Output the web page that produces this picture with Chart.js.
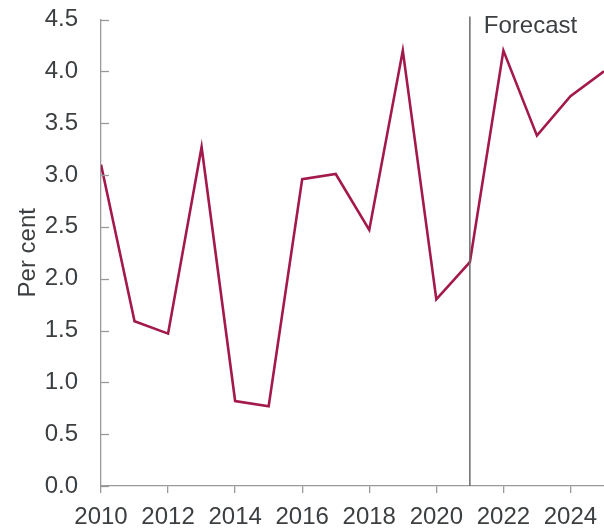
<!DOCTYPE html>
<html>
<head>
<meta charset="utf-8">
<script src="https://cdn.jsdelivr.net/npm/chart.js@4/dist/chart.umd.min.js"></script>
<style>
  html, body { margin: 0; padding: 0; background: #fff; }
  #wrap { width: 604px; height: 530px; position: relative; }
</style>
</head>
<body>
<div id="wrap"><canvas id="chart"></canvas></div>
<script>
// values
const years = [2010, 2011, 2012, 2013, 2014, 2015, 2016, 2017, 2018, 2019, 2020, 2021, 2022, 2023, 2024, 2025];
const perCent = [3.10, 1.59, 1.47, 3.27, 0.82, 0.77, 2.96, 3.01, 2.47, 4.20, 1.80, 2.16, 4.20, 3.38, 3.76, 4.00];
const yTicks = [0, 0.5, 1.0, 1.5, 2.0, 2.5, 3.0, 3.5, 4.0, 4.5];
const forecastStart = 2021;
const forecastLabel = "Forecast";

const textColor = "#3c3f41";
const axisColor = "#9a9a9a";
const fontFamily = "'Liberation Sans', Arial, sans-serif";

// forecast divider + inward y ticks
const extras = {
    id: "extras",
    afterDatasetsDraw(chart) {
        const ctx = chart.ctx;
        const x = chart.scales.x;
        const y = chart.scales.y;
        const area = chart.chartArea;

        ctx.save();
        ctx.strokeStyle = axisColor;
        ctx.lineWidth = 1.3;
        yTicks.forEach(t => {
            const py = Math.round(y.getPixelForValue(t)) + 0.5;
            ctx.beginPath();
            ctx.moveTo(area.left, py);
            ctx.lineTo(area.left + 8, py);
            ctx.stroke();
        });

        const fx = x.getPixelForValue(forecastStart);
        ctx.strokeStyle = "#6b6b6b";
        ctx.lineWidth = 1.5;
        ctx.beginPath();
        ctx.moveTo(fx, area.top - 3);
        ctx.lineTo(fx, area.bottom);
        ctx.stroke();

        ctx.fillStyle = textColor;
        ctx.font = "24px " + fontFamily;
        ctx.textBaseline = "alphabetic";
        ctx.fillText(forecastLabel, fx + 14, 33);
        ctx.restore();
    }
};

const ctx = document.getElementById("chart").getContext("2d");
new Chart(ctx, {
    type: "line",
    data: {
        datasets: [{
            label: "Per cent",
            data: years.map((yr, i) => ({ x: yr, y: perCent[i] })),
            borderColor: "#a3194b",
            borderWidth: 2.6,
            pointRadius: 0,
            tension: 0,
            fill: false
        }]
    },
    options: {
        responsive: true,
        maintainAspectRatio: false,
        animation: false,
        layout: { padding: { top: 19.5, right: 0, left: 0, bottom: 0 } },
        plugins: {
            legend: { display: false },
            tooltip: { enabled: false }
        },
        scales: {
            x: {
                type: "linear",
                min: 2010,
                max: 2025,
                afterFit: scale => {
                    scale.height = 44;
                    scale.paddingLeft = 0;
                    scale.paddingRight = 0;
                },
                afterBuildTicks: scale => {
                    scale.ticks = years.filter(yr => yr % 2 === 0).map(v => ({ value: v }));
                },
                border: { color: axisColor, width: 1.3 },
                grid: { drawOnChartArea: false, drawTicks: true, tickLength: 7, color: axisColor, lineWidth: 1.3 },
                ticks: {
                    color: textColor,
                    font: { family: fontFamily, size: 24 },
                    padding: 10,
                    maxRotation: 0,
                    autoSkip: false,
                    callback: v => String(v)
                }
            },
            y: {
                min: 0,
                max: 4.5,
                afterFit: scale => {
                    scale.width = 101;
                    scale.paddingTop = 0;
                    scale.paddingBottom = 0;
                },
                afterBuildTicks: scale => {
                    scale.ticks = yTicks.map(v => ({ value: v }));
                },
                border: { color: axisColor, width: 1.3 },
                grid: { display: true, drawOnChartArea: false, drawTicks: false },
                title: {
                    display: true,
                    text: "Per cent",
                    color: textColor,
                    font: { family: fontFamily, size: 24 },
                    padding: { top: 14, bottom: 0 }
                },
                ticks: {
                    color: textColor,
                    font: { family: fontFamily, size: 24 },
                    padding: 23,
                    callback: v => v.toFixed(1)
                }
            }
        }
    },
    plugins: [extras]
});
</script>
</body>
</html>
